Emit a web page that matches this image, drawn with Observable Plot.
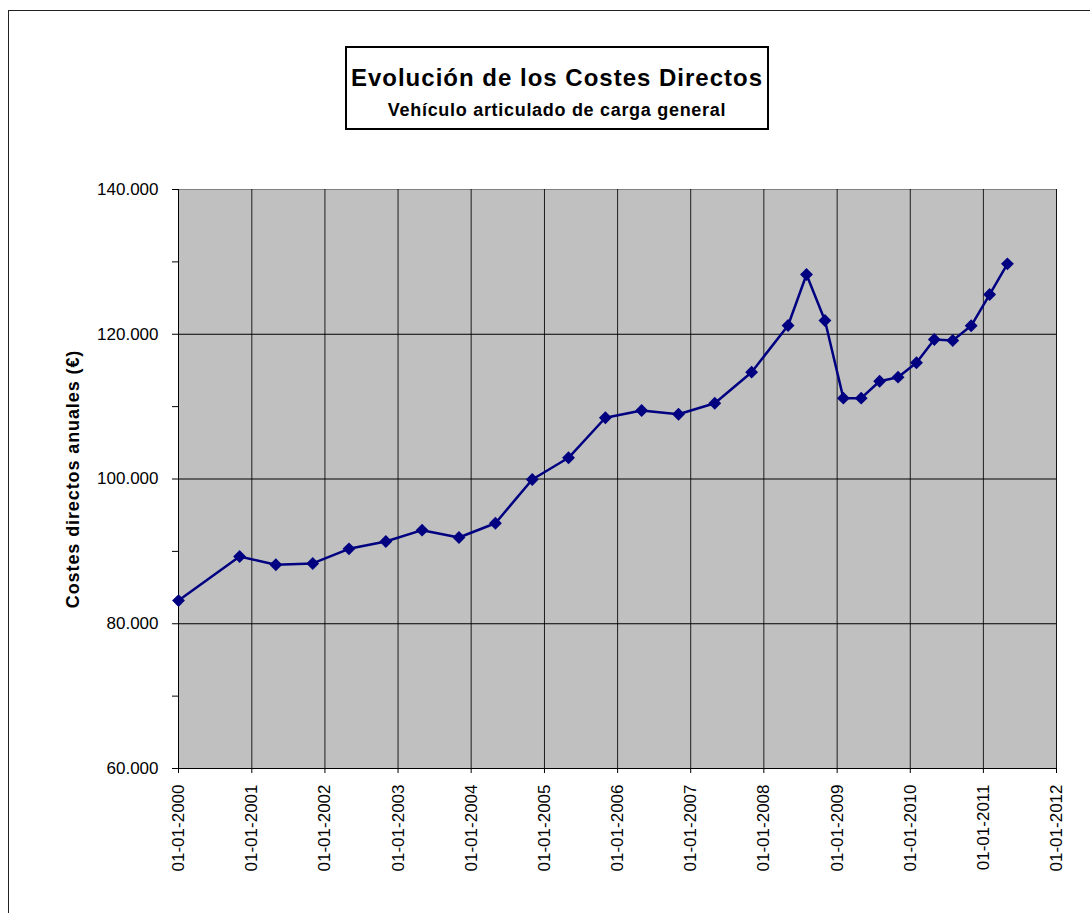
<!DOCTYPE html>
<html>
<head>
<meta charset="utf-8">
<script src="https://cdn.jsdelivr.net/npm/d3@7"></script>
<script src="https://cdn.jsdelivr.net/npm/@observablehq/plot@0.6"></script>
<style>
  body { margin: 0; background: #fff; font-family: "Liberation Sans", Arial, sans-serif; }
  #wrap { position: relative; width: 1090px; height: 913px; overflow: hidden; }
  #chart { position: absolute; left: 0; top: 0; }
  #outer { position: absolute; left: 8px; top: 10px; width: 1200px; height: 1000px;
           border-left: 1.5px solid #222; border-top: 1.5px solid #222; }
  #titlebox { position: absolute; left: 345px; top: 46px; width: 420px; height: 80px;
              border: 2px solid #000; background: #fff; }
  .tline { position: absolute; left: 345px; width: 424px; text-align: center; font-weight: bold; color: #000; white-space: nowrap; }
  #title { top: 66px; font-size: 24px; line-height: 24px; letter-spacing: 1px; }
  #subtitle { top: 101px; font-size: 18px; line-height: 18px; letter-spacing: 0.7px; }
</style>
</head>
<body>
<div id="wrap">
  <div id="outer"></div>
  <div id="chart"></div>
  <div id="titlebox"></div>
  <div class="tline" id="title">Evolución de los Costes Directos</div>
  <div class="tline" id="subtitle">Vehículo articulado de carga general</div>
</div>
<script>
const dates = [
  "2000-01-01","2000-11-01","2001-05-01","2001-11-01","2002-05-01","2002-11-01",
  "2003-05-01","2003-11-01","2004-05-01","2004-11-01","2005-05-01","2005-11-01",
  "2006-05-01","2006-11-01","2007-05-01","2007-11-01","2008-05-01","2008-08-01",
  "2008-11-01","2009-02-01","2009-05-01","2009-08-01","2009-11-01","2010-02-01",
  "2010-05-01","2010-08-01","2010-11-01","2011-02-01","2011-05-01"
];
const values = [
  83200, 89300, 88150, 88330, 90350, 91360,
  92930, 91920, 93890, 99930, 102930, 108460,
  109460, 108950, 110470, 114760, 121210, 128260,
  121900, 111170, 111170, 113510, 114070, 116060,
  119280, 119140, 121170, 125490, 129730
];
const yearTicks = ["2000","2001","2002","2003","2004","2005","2006","2007","2008","2009","2010","2011","2012"];
const yMajor = [60000, 80000, 100000, 120000, 140000];
const yMinor = [70000, 90000, 110000, 130000];
const yGrid = [80000, 100000, 120000];
const yLabel = "Costes directos anuales (€)";

const data = dates.map((d, i) => ({date: new Date(d + "T00:00:00Z"), value: values[i]}));
const yearDates = yearTicks.map(y => new Date(y + "-01-01T00:00:00Z"));
const fmtY = v => d3.format(",.0f")(v).replace(/,/g, ".");

const font = '"Liberation Sans", Arial, sans-serif';

const plot = Plot.plot({
  width: 1090,
  height: 913,
  marginLeft: 178,
  marginRight: 34,
  marginTop: 189,
  marginBottom: 145,
  style: { fontFamily: font, fontSize: "17px", color: "#000", background: "transparent", overflow: "visible" },
  x: { type: "utc", domain: [yearDates[0], yearDates[yearDates.length - 1]] },
  y: { domain: [60000, 140000] },
  marks: [
    Plot.frame({ fill: "#C0C0C0", stroke: "#808080" }),
    Plot.gridY(yGrid, { stroke: "#000", strokeOpacity: 1 }),
    Plot.gridX(yearDates, { stroke: "#000", strokeOpacity: 0.85 }),
    Plot.ruleX([yearDates[0]], { stroke: "#000" }),
    Plot.ruleY([60000], { stroke: "#000" }),
    Plot.axisY(yMajor, { tickSize: 6, tickPadding: 14, fontSize: 17, tickFormat: fmtY, label: null, stroke: "#000" }),
    Plot.axisY(yMinor, { tickSize: 6, tickFormat: () => "", label: null, stroke: "#000" }),
    Plot.axisX(yearDates, { tickSize: 5, tickPadding: 11, tickRotate: -90, fontSize: 17,
      tickFormat: d3.utcFormat("%d-%m-%Y"), label: null, stroke: "#000" }),
    Plot.text([yLabel], { frameAnchor: "left", textAnchor: "middle", dx: -105, rotate: -90, fontWeight: "bold", fontSize: 18, fill: "#000" }),
    Plot.line(data, { x: "date", y: "value", stroke: "#000080", strokeWidth: 2.5 }),
    Plot.dot(data, { x: "date", y: "value", symbol: "diamond2", r: 5.8, fill: "#000080", stroke: "none" })
  ]
});
d3.select(plot).selectAll("text").filter(function() { return this.textContent === yLabel; })
  .style("letter-spacing", "0.9px");
document.getElementById("chart").appendChild(plot);
</script>
</body>
</html>
